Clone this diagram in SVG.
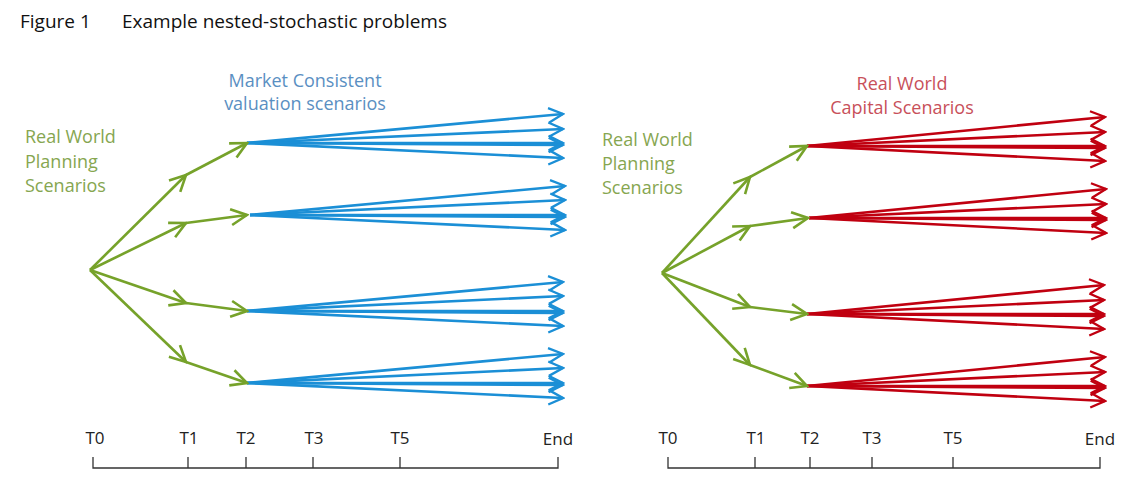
<svg xmlns="http://www.w3.org/2000/svg" width="1128" height="486" viewBox="0 0 1128 486">
<style>
text{font-family:"Open Sans","Liberation Sans",sans-serif}
.g{stroke:#76a22a;stroke-width:2.6;fill:none}
.b{stroke:#1b8fd6;stroke-width:2.6;fill:none}
.r{stroke:#c00010;stroke-width:2.6;fill:none}
.ax{stroke:#333;stroke-width:1.3;fill:none}
.tl{font-size:17px;fill:#222}
</style>
<defs>
<marker id="ag" viewBox="0 0 20 20" refX="18" refY="10" markerWidth="20" markerHeight="20" markerUnits="userSpaceOnUse" orient="auto"><path d="M2,2 L18,10 L2,18" fill="none" stroke="#76a22a" stroke-width="2.6"/></marker>
<marker id="ab" viewBox="0 0 20 20" refX="18" refY="10" markerWidth="18" markerHeight="18" markerUnits="userSpaceOnUse" orient="auto"><path d="M2,2 L18,10 L2,18" fill="none" stroke="#1b8fd6" stroke-width="2.6"/></marker>
<marker id="ar" viewBox="0 0 20 20" refX="18" refY="10" markerWidth="18" markerHeight="18" markerUnits="userSpaceOnUse" orient="auto"><path d="M2,2 L18,10 L2,18" fill="none" stroke="#c00010" stroke-width="2.6"/></marker>
</defs>
<rect width="1128" height="486" fill="#fff"/>
<g id="title"><text x="20" y="28" font-size="19" fill="#111">Figure 1</text><text x="122" y="28" font-size="19" fill="#111">Example nested-stochastic problems</text></g>

<g id="left-labels">
<text x="25" y="143" font-size="18" fill="#86a650">Real World</text>
<text x="25" y="168" font-size="18" fill="#86a650">Planning</text>
<text x="25" y="192" font-size="18" fill="#86a650">Scenarios</text>
<text x="305" y="87" font-size="18" fill="#5a8fc2" text-anchor="middle">Market Consistent</text>
<text x="305" y="110" font-size="18" fill="#5a8fc2" text-anchor="middle">valuation scenarios</text>
</g>
<g id="right-labels">
<text x="602" y="146" font-size="18" fill="#86a650">Real World</text>
<text x="602" y="170" font-size="18" fill="#86a650">Planning</text>
<text x="602" y="194" font-size="18" fill="#86a650">Scenarios</text>
<text x="902" y="90" font-size="18" fill="#c8505a" text-anchor="middle">Real World</text>
<text x="902" y="114" font-size="18" fill="#c8505a" text-anchor="middle">Capital Scenarios</text>
</g>

<g id="connectors">
<g class="b" marker-end="url(#ab)">
<path d="M247,143 L563,114"/><path d="M247,143 L563,129"/><path d="M247,143 L563,143"/><path d="M247,143 L563,145"/><path d="M247,143 L563,158"/>
<path d="M250,215 L565,186"/><path d="M250,215 L565,200"/><path d="M250,215 L565,215"/><path d="M250,215 L565,217"/><path d="M250,215 L565,230"/>
<path d="M247,311 L563,282"/><path d="M247,311 L563,296"/><path d="M247,311 L563,311"/><path d="M247,311 L563,313"/><path d="M247,311 L563,326"/>
<path d="M247,383 L563,354"/><path d="M247,383 L563,368"/><path d="M247,383 L563,383"/><path d="M247,383 L563,385"/><path d="M247,383 L563,398"/>
</g>
<g class="r" marker-end="url(#ar)">
<path d="M807,146 L1105,117"/><path d="M807,146 L1105,132"/><path d="M807,146 L1105,146"/><path d="M807,146 L1105,148"/><path d="M807,146 L1105,161"/>
<path d="M809,218 L1106,189"/><path d="M809,218 L1106,204"/><path d="M809,218 L1106,218"/><path d="M809,218 L1106,220"/><path d="M809,218 L1106,233"/>
<path d="M807,314 L1104,285"/><path d="M807,314 L1104,300"/><path d="M807,314 L1104,314"/><path d="M807,314 L1104,316"/><path d="M807,314 L1104,329"/>
<path d="M807,386 L1105,357"/><path d="M807,386 L1105,372"/><path d="M807,386 L1105,386"/><path d="M807,386 L1105,388"/><path d="M807,386 L1105,401"/>
</g>
<g class="g" marker-end="url(#ag)">
<path d="M90,270 L186,175"/><path d="M90,270 L186,223"/><path d="M90,270 L186,303"/><path d="M90,270 L186,362"/>
<path d="M186,175 L247,143"/><path d="M186,223 L247,215"/><path d="M186,303 L247,311"/><path d="M186,362 L247,383"/>
<path d="M662,273 L750,177"/><path d="M662,273 L750,226"/><path d="M662,273 L750,307"/><path d="M662,273 L750,365"/>
<path d="M750,177 L807,146"/><path d="M750,226 L808,218"/><path d="M750,307 L807,314"/><path d="M750,365 L807,386"/>
</g>
</g>

<g id="left-axis">
<path class="ax" d="M93,457 V468 H558 V457 M188,457 V468 M246,457 V468 M313,457 V468 M400,457 V468"/>
<text class="tl" x="95" y="444" text-anchor="middle">T0</text>
<text class="tl" x="189" y="444" text-anchor="middle">T1</text>
<text class="tl" x="246" y="444" text-anchor="middle">T2</text>
<text class="tl" x="314" y="444" text-anchor="middle">T3</text>
<text class="tl" x="400" y="444" text-anchor="middle">T5</text>
<text class="tl" x="558" y="445" text-anchor="middle">End</text>
</g>
<g id="right-axis">
<path class="ax" d="M668,457 V468 H1100 V457 M755,457 V468 M810,457 V468 M872,457 V468 M953,457 V468"/>
<text class="tl" x="668" y="444" text-anchor="middle">T0</text>
<text class="tl" x="756" y="444" text-anchor="middle">T1</text>
<text class="tl" x="810" y="444" text-anchor="middle">T2</text>
<text class="tl" x="872" y="444" text-anchor="middle">T3</text>
<text class="tl" x="953" y="444" text-anchor="middle">T5</text>
<text class="tl" x="1100" y="445" text-anchor="middle">End</text>
</g>
</svg>
